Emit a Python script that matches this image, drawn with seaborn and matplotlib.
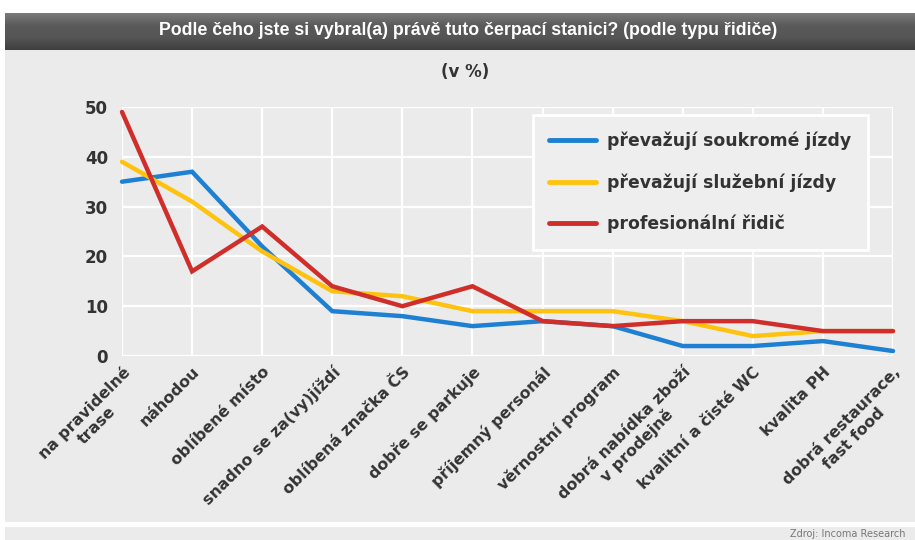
import numpy as np
import pandas as pd
import matplotlib
matplotlib.use("Agg")
import matplotlib.pyplot as plt
from matplotlib.patches import Rectangle
from matplotlib import font_manager
import seaborn as sns

categories = [
    "na pravidelné\ntrase", "náhodou", "oblíbené místo", "snadno se za(vy)jíždí",
    "oblíbená značka ČS", "dobře se parkuje", "příjemný personál",
    "věrnostní program", "dobrá nabídka zboží\nv prodejně", "kvalitní a čisté WC",
    "kvalita PH", "dobrá restaurace,\nfast food",
]
soukrome = [35, 37, 22, 9, 8, 6, 7, 6, 2, 2, 3, 1]
sluzebni = [39, 31, 21, 13, 12, 9, 9, 9, 7, 4, 5, 5]
profesionalni = [49, 17, 26, 14, 10, 14, 7, 6, 7, 7, 5, 5]
series_names = ["převažují soukromé jízdy", "převažují služební jízdy", "profesionální řidič"]
series_colors = ["#1e80d2", "#ffc20e", "#cf2e2a"]
y_ticks = [0, 10, 20, 30, 40, 50]

title = "Podle čeho jste si vybral(a) právě tuto čerpací stanici? (podle typu řidiče)"
subtitle = "(v %)"
source = "Zdroj: Incoma Research"

rows = []
for name, vals in zip(series_names, [soukrome, sluzebni, profesionalni]):
    for i, v in enumerate(vals):
        rows.append({"idx": i, "value": v, "series": name})
df = pd.DataFrame(rows)

sns.set_theme(style="whitegrid")
plt.rcParams["font.family"] = ["DejaVu Sans"]

installed = {f.name for f in font_manager.fontManager.ttflist}
narrow = "Liberation Sans Narrow" if "Liberation Sans Narrow" in installed else "Liberation Sans"
narrow_size = 13.5 if narrow == "Liberation Sans Narrow" else 12.8

W, H = 915, 540
fig = plt.figure(figsize=(W / 100, H / 100), dpi=100)
fig.patch.set_facecolor("white")

def fx(px):
    return px / W

def fy(py):
    return 1 - py / H

panel_bg = "#ebebeb"
# grey background panels, kept beneath the axes
fig.patches.append(Rectangle((fx(5), fy(522)), fx(910), (522 - 48) / H,
                             transform=fig.transFigure, facecolor=panel_bg,
                             edgecolor="none", zorder=-5))
fig.patches.append(Rectangle((fx(5), fy(540)), fx(910), 13 / H,
                             transform=fig.transFigure, facecolor=panel_bg,
                             edgecolor="none", zorder=-5))
# dark title bar with a soft vertical gradient
grad = np.linspace(0, 1, 64).reshape(-1, 1)
bar_ax = fig.add_axes([fx(5), fy(50), fx(910), 37 / H])
bar_ax.imshow(grad, aspect="auto", cmap=matplotlib.colors.LinearSegmentedColormap.from_list(
    "bar", ["#7a7a7a", "#5a5a5a", "#555555", "#3e3e3e"]), extent=[0, 1, 0, 1])
bar_ax.set_axis_off()
fig.text(fx(468), fy(31), title, color="white", fontsize=narrow_size, fontweight="bold",
         family=[narrow, "DejaVu Sans"], ha="center", va="center")
fig.text(fx(465), fy(72), subtitle, color="#333333", fontsize=12, fontweight="bold",
         ha="center", va="center")
fig.text(fx(905), fy(534), source, color="#777777", fontsize=7, ha="right", va="center")

ax = fig.add_axes([fx(122), fy(356), fx(893 - 122), (356 - 107) / H])
ax.set_facecolor(panel_bg)
sns.lineplot(data=df, x="idx", y="value", hue="series", hue_order=series_names,
             palette=series_colors, linewidth=3.2, ax=ax, legend=True)
for ln in ax.lines:
    ln.set_clip_on(False)
    ln.set_solid_joinstyle("miter")

ax.set_xlim(0, len(categories) - 1)
ax.set_ylim(0, 50)
ax.set_xticks(range(len(categories)))
ax.set_xticklabels(categories, rotation=45, ha="right", rotation_mode="anchor",
                   multialignment="center", fontsize=11.3, fontweight="bold",
                   color="#333333")
ax.set_yticks(y_ticks)
ax.set_yticklabels([str(t) for t in y_ticks], fontsize=12, fontweight="bold", color="#333333")
ax.tick_params(axis="x", pad=6, length=0)
ax.tick_params(axis="y", pad=10, length=0)
ax.grid(True, color="white", linewidth=1.6)
for s in ax.spines.values():
    s.set_visible(False)
ax.set_xlabel("")
ax.set_ylabel("")

handles, labels = ax.get_legend_handles_labels()
ax.legend_.remove()
leg = ax.legend(handles, labels, loc="upper left", bbox_to_anchor=(fx(533), fy(115)),
                bbox_transform=fig.transFigure, frameon=True, fancybox=False,
                fontsize=12.4, handlelength=2.7, handletextpad=0.65, labelspacing=1.35,
                borderpad=0.95, borderaxespad=0)
frame = leg.get_frame()
frame.set_facecolor("#eeeeee")
frame.set_edgecolor("white")
frame.set_linewidth(2)
frame.set_alpha(1)
for t in leg.get_texts():
    t.set_fontweight("bold")
    t.set_color("#333333")
for lh in leg.get_lines():
    lh.set_linewidth(3.5)

fig.savefig("out.png", dpi=100, facecolor="white")
